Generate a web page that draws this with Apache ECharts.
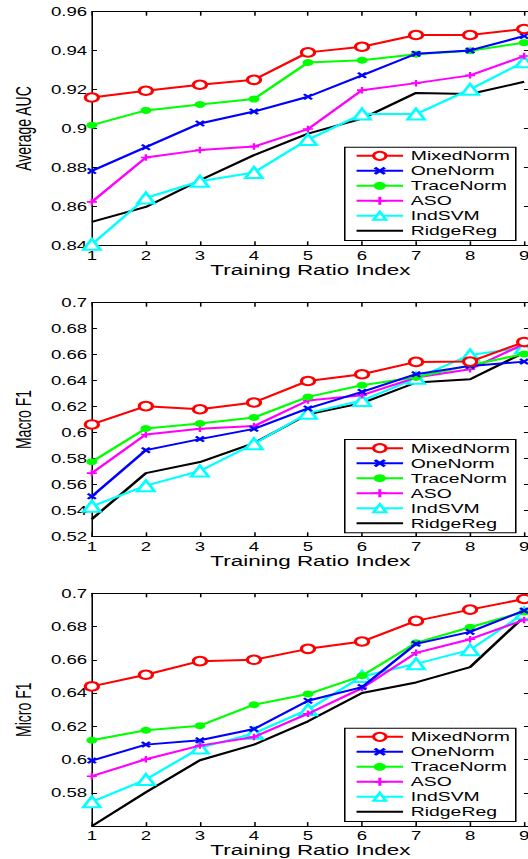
<!DOCTYPE html>
<html>
<head>
<meta charset="utf-8">
<script src="https://cdn.jsdelivr.net/npm/echarts@6/dist/echarts.min.js"></script>
<style>
html,body{margin:0;padding:0;background:#fff;overflow:hidden;width:528px;height:859px;}
#c{width:350px;height:859px;transform:scaleX(1.55);transform-origin:0 0;}
</style>
</head>
<body>
<div id="c"></div>
<script>
// ---- data ----
const xIndex = [1, 2, 3, 4, 5, 6, 7, 8, 9];
const methodNames = ['MixedNorm', 'OneNorm', 'TraceNorm', 'ASO', 'IndSVM', 'RidgeReg'];
const yTitles = ['Average AUC', 'Macro F1', 'Micro F1'];
const xTitle = 'Training Ratio Index';

const aucMixedNorm = [0.9159, 0.9194, 0.9225, 0.9250, 0.9391, 0.9420, 0.9480, 0.9480, 0.9511];
const aucOneNorm   = [0.8782, 0.8904, 0.9026, 0.9087, 0.9163, 0.9273, 0.9384, 0.9401, 0.9475];
const aucTraceNorm = [0.9017, 0.9093, 0.9123, 0.9151, 0.9339, 0.9351, 0.9381, 0.9399, 0.9441];
const aucASO       = [0.8623, 0.8851, 0.8889, 0.8907, 0.8997, 0.9197, 0.9233, 0.9273, 0.9372];
const aucIndSVM    = [0.8405, 0.8643, 0.8729, 0.8774, 0.8943, 0.9074, 0.9074, 0.9201, 0.9343];
const aucRidgeReg  = [0.8520, 0.8597, 0.8734, 0.8863, 0.8974, 0.9051, 0.9183, 0.9177, 0.9240];

const macroMixedNorm = [0.6062, 0.6203, 0.6179, 0.6231, 0.6397, 0.6449, 0.6544, 0.6546, 0.6697];
const macroOneNorm   = [0.5508, 0.5864, 0.5949, 0.6028, 0.6185, 0.6313, 0.6449, 0.6513, 0.6546];
const macroTraceNorm = [0.5774, 0.6031, 0.6069, 0.6115, 0.6274, 0.6364, 0.6426, 0.6518, 0.6605];
const macroASO       = [0.5687, 0.5985, 0.6028, 0.6049, 0.6246, 0.6287, 0.6423, 0.6487, 0.6682];
const macroIndSVM    = [0.5431, 0.5590, 0.5703, 0.5913, 0.6149, 0.6246, 0.6418, 0.6597, 0.6654];
const macroRidgeReg  = [0.5333, 0.5687, 0.5772, 0.5918, 0.6141, 0.6226, 0.6385, 0.6410, 0.6615];

const microMixedNorm = [0.6440, 0.6510, 0.6592, 0.6600, 0.6666, 0.6710, 0.6834, 0.6902, 0.6966];
const microOneNorm   = [0.5994, 0.6090, 0.6116, 0.6184, 0.6354, 0.6436, 0.6696, 0.6768, 0.6896];
const microTraceNorm = [0.6116, 0.6176, 0.6204, 0.6330, 0.6394, 0.6504, 0.6702, 0.6796, 0.6888];
const microASO       = [0.5900, 0.6002, 0.6084, 0.6136, 0.6276, 0.6430, 0.6642, 0.6724, 0.6840];
const microIndSVM    = [0.5746, 0.5880, 0.6070, 0.6158, 0.6300, 0.6500, 0.6576, 0.6660, 0.6880];
const microRidgeReg  = [0.5600, 0.5804, 0.5996, 0.6090, 0.6230, 0.6400, 0.6464, 0.6556, 0.6860];

const yMins = [0.84, 0.52, 0.56];
const yMaxs = [0.96, 0.70, 0.70];
const yStep = 0.02;

// ---- styling / layout ----
const S = 1.55;                // horizontal stretch applied by CSS
const FONT = '"Liberation Sans", Arial, Helvetica, sans-serif';
const panels = [
  [aucMixedNorm, aucOneNorm, aucTraceNorm, aucASO, aucIndSVM, aucRidgeReg],
  [macroMixedNorm, macroOneNorm, macroTraceNorm, macroASO, macroIndSVM, macroRidgeReg],
  [microMixedNorm, microOneNorm, microTraceNorm, microASO, microIndSVM, microRidgeReg]
];
const colors = ['#ff0000', '#0000ff', '#00ff00', '#ff00ff', '#00ffff', '#000000'];
const X_PATH = 'path://M0,2 L2,0 L5,3 L8,0 L10,2 L7,5 L10,8 L8,10 L5,7 L2,10 L0,8 L3,5 Z';
const PLUS_PATH = 'path://M3.8,0 H6.2 V3.8 H10 V6.2 H6.2 V10 H3.8 V6.2 H0 V3.8 H3.8 Z';
const symbols = [
  {symbol: 'emptyCircle', symbolSize: 8.5, borderWidth: 1.6},
  {symbol: X_PATH, symbolSize: 6.5, borderWidth: 0},
  {symbol: 'circle', symbolSize: 7, borderWidth: 0},
  {symbol: PLUS_PATH, symbolSize: 6.5, borderWidth: 0},
  {symbol: 'emptyTriangle', symbolSize: [11, 11], borderWidth: 2},
  {symbol: 'none', symbolSize: 0, borderWidth: 0}
];
const gridTops = [11.7, 302.7, 593.3];
const gridHeight = 233.6;
const legendTops = [146.7, 439, 727.7];
const legendBoxW = (515 - 344) / S;
const legendBoxH = 93.3;
const leftPx = 80 / S;
const gridW = (529 - 80) / S;
const XMAX = 9.09;

const grids = [], xAxes = [], yAxes = [], series = [], legends = [], graphics = [];
for (let p = 0; p < 3; p++) {
  grids.push({left: leftPx, top: gridTops[p], width: gridW, height: gridHeight,
    show: false, containLabel: false});
  const tickX = {inside: true, length: 4, lineStyle: {color: '#000', width: 1}};
  const tickY = {inside: true, length: 3.3, lineStyle: {color: '#000', width: 1}};
  const line = {show: true, onZero: false, lineStyle: {color: '#000', width: 1}};
  xAxes.push({gridIndex: p, type: 'value', position: 'bottom', min: 1, max: XMAX, interval: 1,
    axisLine: line, axisTick: tickX, splitLine: {show: false},
    axisLabel: {margin: 4, fontSize: 12, color: '#000', fontFamily: FONT,
      formatter: v => Math.abs(v - Math.round(v)) < 1e-6 ? String(Math.round(v)) : ''},
    name: xTitle, nameLocation: 'middle', nameGap: 14,
    nameTextStyle: {fontSize: 14.5, color: '#000', fontFamily: FONT}});
  xAxes.push({gridIndex: p, type: 'value', position: 'top', min: 1, max: XMAX, interval: 1,
    axisLine: line, axisTick: tickX, splitLine: {show: false}, axisLabel: {show: false}});
  yAxes.push({gridIndex: p, type: 'value', position: 'left', min: yMins[p], max: yMaxs[p], interval: yStep,
    axisLine: line, axisTick: tickY, splitLine: {show: false},
    axisLabel: {margin: 3, fontSize: 12, color: '#000', fontFamily: FONT, showMinLabel: p !== 2},
    name: yTitles[p], nameLocation: 'middle', nameGap: 30, nameRotate: 90,
    nameTextStyle: {fontSize: 14, color: '#000', fontFamily: FONT}});
  yAxes.push({gridIndex: p, type: 'value', position: 'right', min: yMins[p], max: yMaxs[p], interval: yStep,
    axisLine: line, axisTick: tickY, splitLine: {show: false}, axisLabel: {show: false}});

  panels[p].forEach((vals, k) => {
    const sy = symbols[k];
    series.push({
      type: 'line', name: methodNames[k], xAxisIndex: 2 * p, yAxisIndex: 2 * p,
      data: xIndex.map((x, i) => [x, vals[i]]),
      symbol: sy.symbol, symbolSize: sy.symbolSize, showSymbol: sy.symbol !== 'none',
      lineStyle: {color: colors[k], width: 2},
      itemStyle: {color: colors[k], borderColor: colors[k], borderWidth: sy.borderWidth},
      emphasis: {disabled: true}, animation: false, z: 2 + (5 - k)
    });
  });

  // legend frame
  graphics.push({
    type: 'rect', left: 344 / S, top: legendTops[p], z: 15,
    shape: {width: legendBoxW, height: legendBoxH},
    style: {fill: '#fff', stroke: '#000', lineWidth: 1}
  });

  legends.push({
    orient: 'vertical', left: 344 / S, top: legendTops[p],
    data: methodNames.map((n, k) => k === 5
      ? {name: n, itemStyle: {color: 'rgba(0,0,0,0)', borderWidth: 0, opacity: 0}}
      : {name: n}),
    itemWidth: 30, itemHeight: 10, itemGap: 0,
    padding: [1.65, 2, 1.65, 7.1],
    textStyle: {fontSize: 12.5, color: '#000', fontFamily: FONT, lineHeight: 15},
    selectedMode: false, z: 20
  });
}

const chart = echarts.init(document.getElementById('c'), null, {renderer: 'svg', width: 350, height: 859});
chart.setOption({
  animation: false,
  backgroundColor: '#fff',
  grid: grids, xAxis: xAxes, yAxis: yAxes, series: series, legend: legends,
  graphic: {elements: graphics}
});
</script>
</body>
</html>
